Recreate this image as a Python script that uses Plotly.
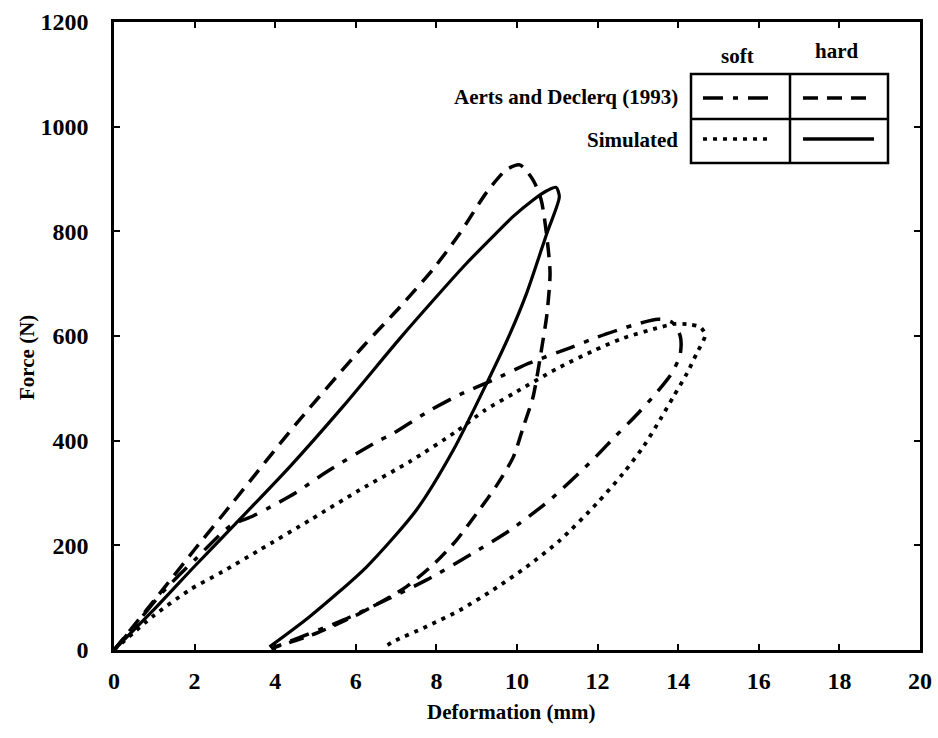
import plotly.graph_objects as go

# ---------------- data ----------------
hard_aerts_x = [0, 1.0, 2.0, 2.95, 4.53, 6.18, 7.09, 7.92, 8.58, 9.25, 9.74, 10.07, 10.4, 10.6, 10.74, 10.82,
                10.74, 10.62, 10.4, 10.16, 9.91, 9.5, 9.0, 8.5, 8.0, 7.26, 6.1, 5.02, 4.03, 3.9]
hard_aerts_y = [0, 95, 192, 282, 433, 580, 655, 728, 796, 875, 918, 927, 898, 860, 790, 720,
                640, 580, 484, 427, 369, 315, 261, 210, 169, 121, 70, 32, 6, 2]

hard_sim_x = [0, 1, 2, 3, 4.36, 5.68, 7.09, 8.0, 8.75, 9.4, 9.9, 10.4, 10.75, 10.97, 11.05,
              10.74, 10.24, 9.83, 9.25, 8.42, 7.51, 6.27, 4.86, 3.86]
hard_sim_y = [0, 78, 160, 240, 350, 465, 595, 675, 739, 790, 828, 860, 878, 884, 866,
              796, 682, 605, 510, 382, 268, 159, 64, 6]

soft_aerts_x = [0, 0.5, 1.2, 2.0, 2.9, 3.45, 3.8, 4.5, 5.27, 6.5, 6.93, 7.8, 8.58, 9.41, 10.3, 11.3, 12.0, 12.9, 13.5, 13.85,
                14.05, 14.05, 13.85, 13.5, 13.0, 12.4, 11.9, 10.82, 9.83, 8.91, 7.76, 6.76, 5.68, 4.44, 3.9]
soft_aerts_y = [0, 45, 110, 172, 238, 256, 270, 300, 340, 397, 414, 456, 488, 516, 548, 577, 598, 621, 632, 626,
                600, 565, 530, 495, 452, 405, 365, 287, 229, 185, 134, 96, 57, 19, 3]

soft_sim_x = [0, 0.96, 1.88, 2.7, 3.61, 4.9, 6.1, 7.34, 8.5, 9.2, 9.91, 11.0, 11.9, 12.64, 13.47, 13.9, 14.3, 14.55, 14.67,
              14.46, 14.22, 13.88, 13.55, 13.14, 12.64, 11.98, 11.07, 10.24, 9.41, 8.58, 7.76, 6.93, 6.7]
soft_sim_y = [0, 64, 115, 150, 191, 250, 306, 360, 418, 458, 490, 538, 572, 596, 615, 623, 622, 617, 602,
              567, 529, 484, 440, 389, 338, 280, 210, 159, 115, 76, 45, 16, 5]

x_ticks = [0, 2, 4, 6, 8, 10, 12, 14, 16, 18, 20]
y_ticks = [0, 200, 400, 600, 800, 1000, 1200]

row_labels = ["Aerts and Declerq (1993)", "Simulated"]
col_labels = ["soft", "hard"]
x_title = "Deformation (mm)"
y_title = "Force (N)"

# ---------------- styles ----------------
FONT = "Liberation Serif, Times New Roman, serif"
DASH_HARD_AERTS = "15px,9px"
DASH_SOFT_AERTS = "20px,10px,5px,10px"
DASH_SOFT_SIM = "4px,6px"

fig = go.Figure()

def add(x, y, dash, w):
    fig.add_trace(go.Scatter(x=x, y=y, mode="lines",
                             line=dict(color="black", width=w, dash=dash, shape="spline", smoothing=0.7),
                             showlegend=False, hoverinfo="skip", cliponaxis=False))

add(hard_aerts_x, hard_aerts_y, DASH_HARD_AERTS, 3.5)
add(hard_sim_x, hard_sim_y, "solid", 3.2)
add(soft_aerts_x, soft_aerts_y, DASH_SOFT_AERTS, 3.5)
add(soft_sim_x, soft_sim_y, DASH_SOFT_SIM, 3.8)

# ---------------- legend table (pixel helper -> data coords) ----------------
def X(px):
    return (px - 114.0) / 40.3

def Y(py):
    return (650.0 - py) / 0.5233

box_l, box_r, box_mid = 691, 888, 790
box_t, box_m, box_b = 74, 119, 163
line_kw = dict(color="black", width=2.5)
fig.add_shape(type="rect", x0=X(box_l), x1=X(box_r), y0=Y(box_t), y1=Y(box_b), xref="x", yref="y", line=line_kw)
fig.add_shape(type="line", x0=X(box_l), x1=X(box_r), y0=Y(box_m), y1=Y(box_m), xref="x", yref="y", line=line_kw)
fig.add_shape(type="line", x0=X(box_mid), x1=X(box_mid), y0=Y(box_t), y1=Y(box_b), xref="x", yref="y", line=line_kw)

samples = [
    (703, 773, 98, DASH_SOFT_AERTS),
    (803, 874, 98, DASH_HARD_AERTS),
    (703, 773, 139, DASH_SOFT_SIM),
    (803, 874, 139, "solid"),
]
for x0, x1, yy, d in samples:
    fig.add_shape(type="line", x0=X(x0), x1=X(x1), y0=Y(yy), y1=Y(yy), xref="x", yref="y",
                  line=dict(color="black", width=3.5, dash=d))

tfont = dict(family=FONT, size=21, color="black", weight="bold")
fig.add_annotation(x=X(737), y=Y(56), text=col_labels[0], showarrow=False, font=tfont, xref="x", yref="y")
fig.add_annotation(x=X(837), y=Y(51), text=col_labels[1], showarrow=False, font=tfont, xref="x", yref="y")
fig.add_annotation(x=X(680), y=Y(97), text=row_labels[0], showarrow=False, font=tfont, xref="x", yref="y",
                   xanchor="right")
fig.add_annotation(x=X(680), y=Y(140), text=row_labels[1], showarrow=False, font=tfont, xref="x", yref="y",
                   xanchor="right")

# axis titles placed as annotations (paper coords from pixel positions)
PL, PR, PT, PB = 114.0, 920.0, 22.0, 650.0
def PX(px):
    return (px - PL) / (PR - PL)

def PY(py):
    return (PB - py) / (PB - PT)

fig.add_annotation(x=PX(511), y=PY(712), text=x_title, showarrow=False, font=tfont,
                   xref="paper", yref="paper", xanchor="center", yanchor="middle")
fig.add_annotation(x=PX(27), y=PY(358), text=y_title, showarrow=False, font=tfont, textangle=-90,
                   xref="paper", yref="paper", xanchor="center", yanchor="middle")

axis_common = dict(showline=True, linecolor="black", linewidth=2.5, mirror="ticks",
                   ticks="inside", ticklen=6, tickwidth=2, tickcolor="black",
                   showgrid=False, zeroline=False, automargin=False,
                   tickfont=dict(family=FONT, size=24, color="black", weight="bold"))

fig.update_layout(
    width=938, height=738,
    margin=dict(l=114, r=18, t=22, b=88),
    paper_bgcolor="white", plot_bgcolor="white",
    xaxis=dict(range=[0, 20], tickvals=x_ticks, ticktext=[str(v) for v in x_ticks],
               ticklabelstandoff=7, **axis_common),
    yaxis=dict(range=[0, 1200], tickvals=y_ticks, ticktext=[str(v) for v in y_ticks],
               ticklabelstandoff=18, **axis_common),
)

fig.write_html("out.html")
